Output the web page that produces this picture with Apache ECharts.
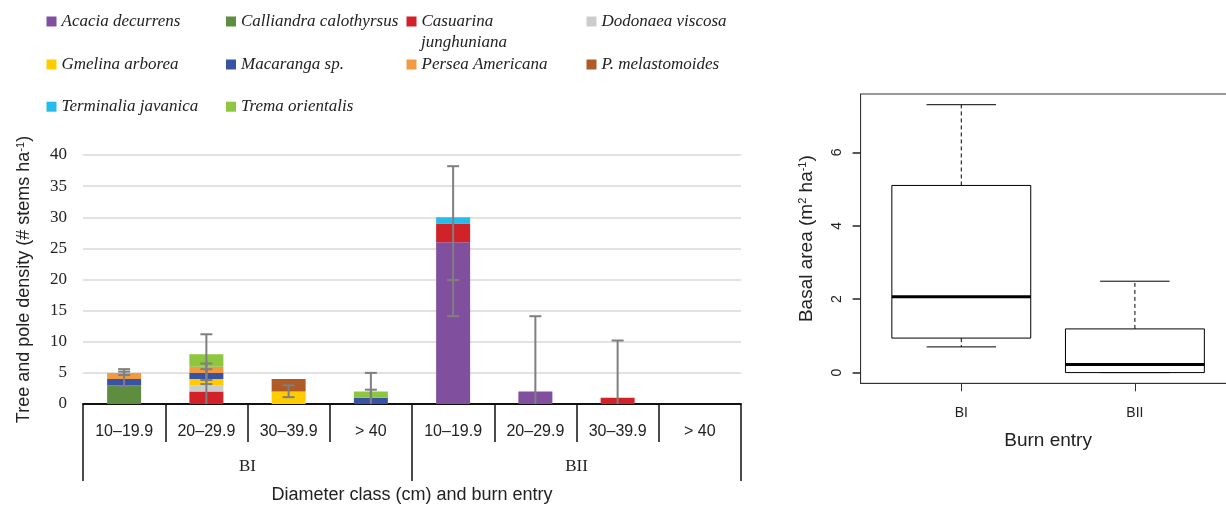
<!DOCTYPE html>
<html><head><meta charset="utf-8">
<script src="https://cdn.jsdelivr.net/npm/echarts@6/dist/echarts.min.js"></script>
<style>html,body{margin:0;padding:0;background:#fff}#c{width:1226px;height:507px}</style>
</head><body><div id="c"></div>
<script>
// ---------- DATA ----------
const diameterClasses = ['10–19.9','20–29.9','30–39.9','> 40','10–19.9','20–29.9','30–39.9','> 40'];
const burnEntries = ['BI','BII'];
const densityTicks = [0,5,10,15,20,25,30,35,40];

const speciesNames = ['Acacia decurrens','Calliandra calothyrsus','Casuarina junghuniana','Dodonaea viscosa',
  'Gmelina arborea','Macaranga sp.','Persea Americana','P. melastomoides','Terminalia javanica','Trema orientalis'];
const acaciaDecurrens      = [0,0,0,0,26,2,0,0];
const calliandraCalothyrsus= [3,0,0,0,0,0,0,0];
const casuarinaJunghuniana = [0,2,0,0,3,0,1,0];
const dodonaeaViscosa      = [0,1,0,0,0,0,0,0];
const gmelinaArborea       = [0,1,2,0,0,0,0,0];
const macarangaSp          = [1,1,0,1,0,0,0,0];
const perseaAmericana      = [1,1,0,0,0,0,0,0];
const pMelastomoides       = [0,0,2,0,0,0,0,0];
const terminaliaJavanica   = [0,0,0,0,1,0,0,0];
const tremaOrientalis      = [0,2,0,1,0,0,0,0];
// error bars: [class index, low, high]
const errorBars = [
  [0,2.9,5.6],[0,4.65,5.2],
  [1,0,11.2],[1,3.2,6.5],[1,3.85,5.6],
  [2,1.1,3.0],
  [3,0,5.0],[3,0,2.3],
  [4,14.1,38.2],[4,19.9,19.9],
  [5,0,14.1],
  [6,0,10.2]
];
// basal area boxplot: [position, lowerWhisker, Q1, median, Q3, upperWhisker]
const boxCategories = ['BI','BII'];
const boxStats = [
  [1, 0.70, 0.94, 2.07, 5.10, 7.30],
  [2, 0.00, 0.00, 0.22, 1.19, 2.49]
];
const basalTicks = [0,2,4,6];

// ---------- STYLE ----------
const speciesData = [acaciaDecurrens,calliandraCalothyrsus,casuarinaJunghuniana,dodonaeaViscosa,gmelinaArborea,
  macarangaSp,perseaAmericana,pMelastomoides,terminaliaJavanica,tremaOrientalis];
const colors = ['#804f9e','#5f8d3f','#d12229','#cccccc','#ffcc00','#3953a4','#f39a40','#b05a28','#25bcec','#8dc63f'];
const colX = [46.5,226,406.5,586.5];
const rowCenter = [21.5,64.5,106.7];
const serif = '"Liberation Serif", "DejaVu Serif", serif';
const sans = '"Liberation Sans", Arial, sans-serif';
const ink = '#222';
const boxXMin = 0.42, boxXMax = 2.58;

const legends = speciesNames.map((n,i)=>({
  data:[n], left: colX[i%4], top: rowCenter[Math.floor(i/4)] - 10, padding:0,
  itemWidth:10, itemHeight:10, icon:'rect', selectedMode:false,
  formatter: n === 'Casuarina junghuniana' ? 'Casuarina' : '{name}',
  textStyle:{fontFamily:serif, fontStyle:'italic', fontSize:17, color:ink, lineHeight:20}
}));

const barSeries = speciesNames.map((n,i)=>({
  name:n, type:'bar', stack:'total', data:speciesData[i], barWidth:34,
  xAxisIndex:0, yAxisIndex:0, itemStyle:{color:colors[i]}, emphasis:{disabled:true}
}));

const option = {
  animation:false,
  color: colors,
  legend: legends,
  graphic:[{type:'text', left:421, top:34, style:{text:'junghuniana', font:'italic 17px ' + serif, fill:ink}}],
  grid:[
    {left:83, top:155, width:658, height:249, outerBoundsMode:'none', containLabel:false},
    {left:860.6, top:94, width:375, height:289.3, outerBoundsMode:'none', containLabel:false,
     show:true, borderColor:'#333', borderWidth:1, backgroundColor:'transparent'}
  ],
  xAxis:[
    {type:'category', gridIndex:0, data:diameterClasses, position:'bottom',
     axisLine:{lineStyle:{color:'#111', width:2}},
     axisTick:{show:true, length:38, lineStyle:{color:'#111', width:1.5}},
     axisLabel:{margin:20, fontFamily:sans, fontSize:16, color:ink, interval:0}},
    {type:'category', gridIndex:0, data:burnEntries, position:'bottom', offset:0,
     axisLine:{show:false},
     axisTick:{show:true, length:77, lineStyle:{color:'#111', width:1.5}},
     axisLabel:{margin:54, fontFamily:serif, fontSize:17, color:ink},
     name:'Diameter class (cm) and burn entry', nameLocation:'middle', nameGap:82,
     nameTextStyle:{fontFamily:sans, fontSize:18, color:ink}},
    {type:'value', gridIndex:1, min:boxXMin, max:boxXMax, position:'bottom',
     axisLine:{show:true, onZero:false, lineStyle:{color:'#333', width:1}}, splitLine:{show:false},
     axisTick:{show:true, length:8, customValues:[1,2], lineStyle:{color:'#333'}},
     axisLabel:{show:true, customValues:[1,2], margin:23, fontFamily:sans, fontSize:14, color:ink,
       formatter:v=>boxCategories[Math.round(v)-1]},
     name:'Burn entry', nameLocation:'middle', nameGap:48,
     nameTextStyle:{fontFamily:sans, fontSize:19, color:ink}}
  ],
  yAxis:[
    {type:'value', gridIndex:0, min:0, max:40, interval:5,
     axisLine:{show:false}, axisTick:{show:false},
     splitLine:{lineStyle:{color:'#d9d9d9', width:1.5}},
     axisLabel:{margin:16, fontFamily:serif, fontSize:17, color:ink},
     name:'Tree and pole density (# stems ha{sup|-1})', nameLocation:'middle', nameGap:50,
     nameTextStyle:{fontFamily:sans, fontSize:18, color:ink, rich:{sup:{fontFamily:sans, fontSize:11, verticalAlign:'top', color:ink}}}},
    {type:'value', gridIndex:1, min:-0.292, max:7.592, position:'left',
     axisLine:{show:true, onZero:false, lineStyle:{color:'#333', width:1}}, splitLine:{show:false},
     axisTick:{show:true, length:8, customValues:basalTicks, lineStyle:{color:'#222', width:1.5}},
     axisLabel:{show:true, customValues:basalTicks, rotate:90, margin:16, fontFamily:sans, fontSize:14, color:ink},
     name:'Basal area (m{sup|2} ha{sup|-1})', nameLocation:'middle', nameGap:44,
     nameTextStyle:{fontFamily:sans, fontSize:19, color:ink, rich:{sup:{fontFamily:sans, fontSize:11, verticalAlign:'top', color:ink}}}}
  ],
  series: barSeries.concat([
    {type:'custom', xAxisIndex:0, yAxisIndex:0, data:errorBars, z:5, encode:{x:0, y:[1,2]},
     renderItem:(params, api)=>{
       const x=api.value(0), lo=api.value(1), hi=api.value(2);
       const p1=api.coord([x,lo]), p2=api.coord([x,hi]);
       const st={stroke:'#7f7f7f', lineWidth:2};
       const ch=[];
       if(hi>lo) ch.push({type:'line', shape:{x1:p1[0],y1:p1[1],x2:p2[0],y2:p2[1]}, style:st});
       if(lo>0) ch.push({type:'line', shape:{x1:p1[0]-6,y1:p1[1],x2:p1[0]+6,y2:p1[1]}, style:st});
       if(hi>lo || hi>0) ch.push({type:'line', shape:{x1:p2[0]-6,y1:p2[1],x2:p2[0]+6,y2:p2[1]}, style:st});
       return {type:'group', children:ch};
     }},
    {type:'custom', xAxisIndex:2, yAxisIndex:1, data:boxStats, encode:{x:0, y:[1,5]},
     renderItem:(params, api)=>{
       const x=api.value(0), w=api.value(1), q1=api.value(2), md=api.value(3), q3=api.value(4), wh=api.value(5);
       const hw=api.size([0.4,0])[0], cw=hw/2;
       const c=api.coord([x,0])[0];
       const y=v=>api.coord([x,v])[1];
       const solid={stroke:'#000', lineWidth:1};
       const dash={stroke:'#000', lineWidth:1, lineDash:[4,3]};
       return {type:'group', children:[
         {type:'line', shape:{x1:c,y1:y(q3),x2:c,y2:y(wh)}, style:dash},
         {type:'line', shape:{x1:c,y1:y(q1),x2:c,y2:y(w)}, style:dash},
         {type:'line', shape:{x1:c-cw,y1:y(wh),x2:c+cw,y2:y(wh)}, style:solid},
         {type:'line', shape:{x1:c-cw,y1:y(w),x2:c+cw,y2:y(w)}, style:solid},
         {type:'rect', shape:{x:c-hw, y:y(q3), width:2*hw, height:y(q1)-y(q3)}, style:{fill:'#fff', stroke:'#000', lineWidth:1}},
         {type:'line', shape:{x1:c-hw,y1:y(md),x2:c+hw,y2:y(md)}, style:{stroke:'#000', lineWidth:3}}
       ]};
     }}
  ])
};
const chart = echarts.init(document.getElementById('c'), null, {renderer:'canvas'});
chart.setOption(option);
</script></body></html>
